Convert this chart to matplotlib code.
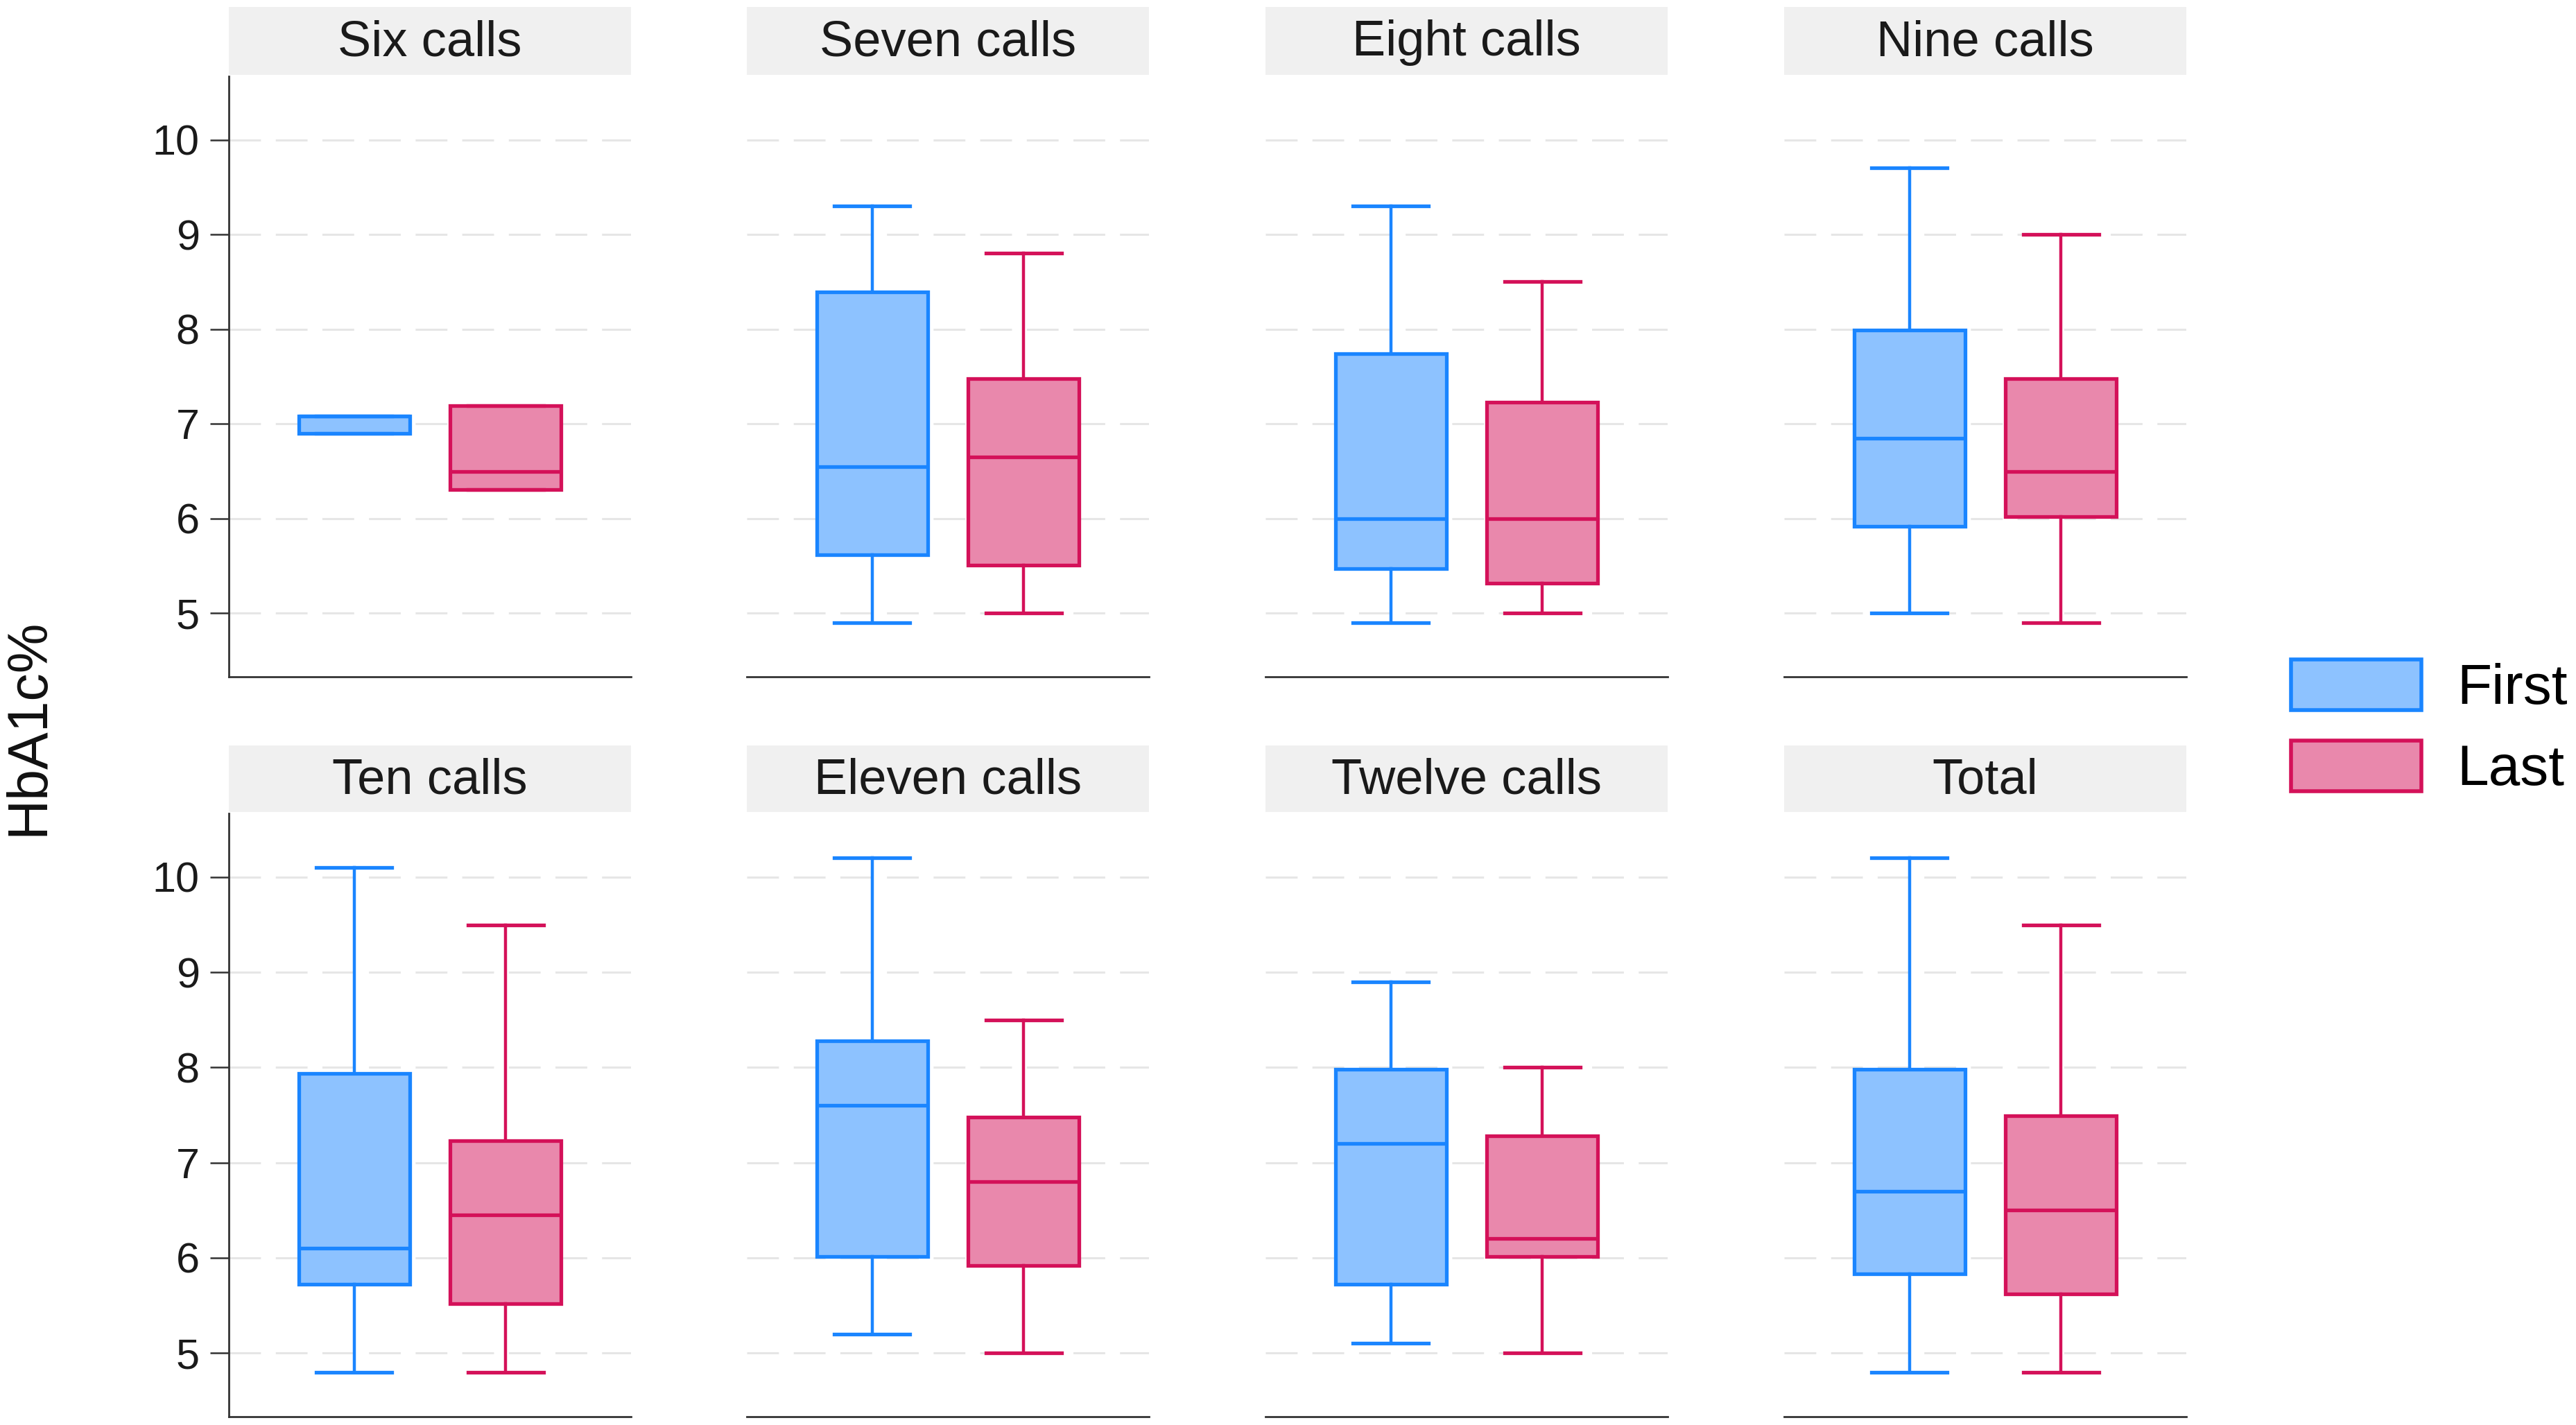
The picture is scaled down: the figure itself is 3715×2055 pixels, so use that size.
import matplotlib
matplotlib.use("Agg")
import matplotlib.pyplot as plt
from matplotlib.patches import Patch

plt.rcParams['font.family'] = ['Liberation Sans', 'DejaVu Sans']

panels = ["Six calls", "Seven calls", "Eight calls", "Nine calls",
          "Ten calls", "Eleven calls", "Twelve calls", "Total"]

first_low = [6.9, 4.9, 4.9, 5.0, 4.8, 5.2, 5.1, 4.8]
first_q1 = [6.9, 5.62, 5.47, 5.92, 5.72, 6.01, 5.72, 5.83]
first_med = [7.08, 6.55, 6.0, 6.85, 6.1, 7.6, 7.2, 6.7]
first_q3 = [7.08, 8.39, 7.74, 7.99, 7.94, 8.28, 7.98, 7.98]
first_high = [7.08, 9.3, 9.3, 9.7, 10.1, 10.2, 8.9, 10.2]

last_low = [6.31, 5.0, 5.0, 4.9, 4.8, 5.0, 5.0, 4.8]
last_q1 = [6.31, 5.51, 5.32, 6.02, 5.52, 5.92, 6.01, 5.62]
last_med = [6.5, 6.65, 6.0, 6.5, 6.45, 6.8, 6.2, 6.5]
last_q3 = [7.19, 7.48, 7.23, 7.48, 7.23, 7.48, 7.28, 7.49]
last_high = [7.19, 8.8, 8.5, 9.0, 9.5, 8.5, 8.0, 9.5]

series = ["First", "Last"]
yticks = [5, 6, 7, 8, 9, 10]

edge_cols = ["#1A85FF", "#D41159"]
fill_cols = ["#8DC2FF", "#E988AC"]

W, H = 3716, 2055
DPI = 200
fig = plt.figure(figsize=(W / DPI, H / DPI), dpi=DPI)

col_left = [330, 1077, 1825, 2573]
col_w = 580
rows = [(110, 976, 10, 108), (1173, 2043, 1075, 1171)]

for i, name in enumerate(panels):
    r, c = divmod(i, 4)
    top, bot, stop, sbot = rows[r]
    ax = fig.add_axes([col_left[c] / W, 1 - bot / H, col_w / W, (bot - top) / H])
    sax = fig.add_axes([col_left[c] / W, 1 - sbot / H, col_w / W, (sbot - stop) / H])
    sax.set_facecolor("#F0F0F0")
    for s in sax.spines.values():
        s.set_visible(False)
    sax.set_xticks([]); sax.set_yticks([])
    sax.text(0.5, 0.47, name, ha="center", va="center", fontsize=26,
             color="#1a1a1a", transform=sax.transAxes)

    stats = [
        dict(whislo=first_low[i], q1=first_q1[i], med=first_med[i],
             q3=first_q3[i], whishi=first_high[i], fliers=[]),
        dict(whislo=last_low[i], q1=last_q1[i], med=last_med[i],
             q3=last_q3[i], whishi=last_high[i], fliers=[]),
    ]
    for k in range(2):
        ax.bxp([stats[k]], positions=[k + 1], widths=0.73, capwidths=0.5,
               patch_artist=True, showfliers=False,
               boxprops=dict(facecolor=fill_cols[k], edgecolor=edge_cols[k], linewidth=1.9),
               medianprops=dict(color=edge_cols[k], linewidth=1.9),
               whiskerprops=dict(color=edge_cols[k], linewidth=1.6),
               capprops=dict(color=edge_cols[k], linewidth=1.9),
               manage_ticks=False, zorder=3)

    ax.set_xlim(0.17, 2.83)
    ax.set_ylim(4.33, 10.67)
    ax.set_yticks(yticks)
    ax.set_xticks([])
    ax.grid(axis="y", color="#E6E6E6", linewidth=1.1, linestyle=(0, (15, 7)), zorder=0)
    ax.set_axisbelow(True)
    for s in ["top", "right"]:
        ax.spines[s].set_visible(False)
    ax.spines["bottom"].set_color("#333333")
    ax.spines["bottom"].set_linewidth(1.0)
    if c == 0:
        ax.spines["left"].set_color("#333333")
        ax.spines["left"].set_linewidth(1.0)
        ax.tick_params(axis="y", length=9.7, width=0.9, color="#333333",
                       labelsize=22, pad=5.5, labelcolor="#1a1a1a")
    else:
        ax.spines["left"].set_visible(False)
        ax.tick_params(axis="y", length=0, labelleft=False)
    ax.tick_params(axis="x", length=0)

fig.text(41 / W, 1 - 1048 / H, "HbA1c%", rotation=90, ha="center", va="center",
         fontsize=29, color="#111111")

handles = [Patch(facecolor=fill_cols[k], edgecolor=edge_cols[k], linewidth=2.0)
           for k in range(2)]
fig.legend(handles, series, loc="center left",
           bbox_to_anchor=(3304 / W, 1 - 1050 / H), frameon=False,
           fontsize=29.5, handlelength=2.3, handleheight=1.0,
           labelspacing=0.43, handletextpad=0.62, borderpad=0, borderaxespad=0)

fig.savefig("out.png", dpi=DPI, facecolor="white")
